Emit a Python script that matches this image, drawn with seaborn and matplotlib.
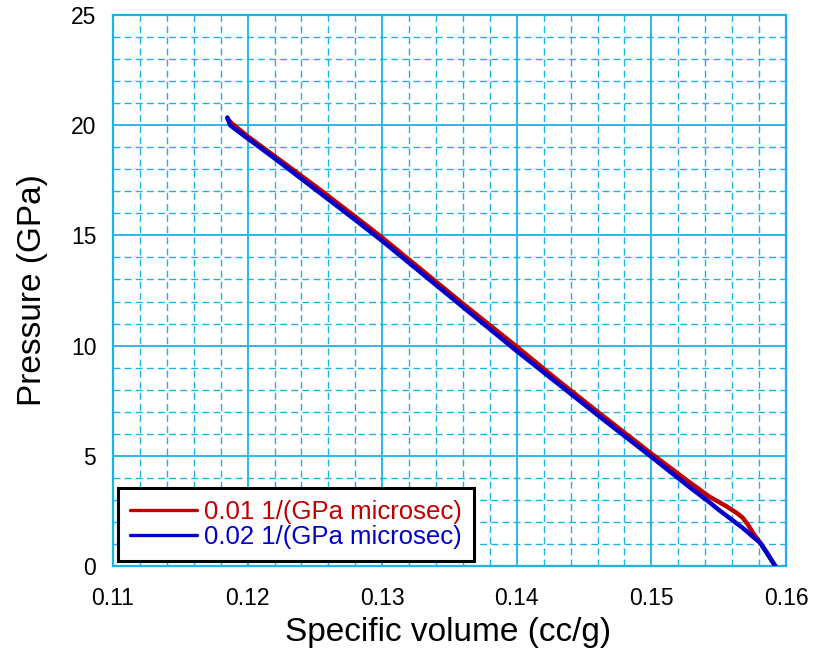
import matplotlib
matplotlib.use("Agg")
import matplotlib.pyplot as plt
import seaborn as sns
import pandas as pd
from matplotlib.ticker import MultipleLocator, FormatStrFormatter

# data
vol_red = [0.1185, 0.1188, 0.120, 0.122, 0.125, 0.128, 0.130, 0.133, 0.136, 0.140,
           0.143, 0.146, 0.150, 0.1525, 0.1543, 0.1556, 0.1564, 0.1568, 0.1572,
           0.15755, 0.1581, 0.1586, 0.1592]
p_red = [20.3, 20.1, 19.5, 18.6, 17.25, 15.85, 14.9, 13.4, 11.9, 9.95,
         8.45, 7.0, 5.1, 3.95, 3.15, 2.7, 2.38, 2.18, 1.85,
         1.5, 1.04, 0.6, 0.0]

vol_blue = [0.1185, 0.1187, 0.120, 0.122, 0.125, 0.128, 0.130, 0.133, 0.136, 0.140,
            0.143, 0.146, 0.150, 0.153, 0.1543, 0.155, 0.1568, 0.1581, 0.1592]
p_blue = [20.35, 20.0, 19.4, 18.5, 17.1, 15.7, 14.75, 13.25, 11.75, 9.75,
          8.3, 6.85, 4.95, 3.5, 2.9, 2.55, 1.72, 1.04, 0.0]

labels = ["0.01 1/(GPa microsec)", "0.02 1/(GPa microsec)"]
colors = ["#C00000", "#0000CC"]

df = pd.concat([
    pd.DataFrame({"vol": vol_red, "p": p_red, "rate": labels[0]}),
    pd.DataFrame({"vol": vol_blue, "p": p_blue, "rate": labels[1]}),
])

sns.set_style("white")
plt.rcParams['font.family'] = ['Liberation Sans', 'DejaVu Sans']

grid_c = "#1AB2E8"

fig = plt.figure(figsize=(8.23, 6.55), dpi=100)
ax = fig.add_axes([0.1373, 0.1359, 0.8177, 0.8412])

sns.lineplot(data=df, x="vol", y="p", hue="rate", palette=colors, sort=False,
             estimator=None, linewidth=3.2, ax=ax, zorder=3)

ax.set_xlim(0.11, 0.16)
ax.set_ylim(0, 25)
ax.xaxis.set_major_locator(MultipleLocator(0.01))
ax.xaxis.set_minor_locator(MultipleLocator(0.002))
ax.yaxis.set_major_locator(MultipleLocator(5))
ax.yaxis.set_minor_locator(MultipleLocator(1))
ax.xaxis.set_major_formatter(FormatStrFormatter('%.2f'))

ax.grid(which='major', color=grid_c, linewidth=1.3, linestyle='-')
ax.grid(which='minor', color=grid_c, linewidth=1.0, linestyle=(0, (5, 3)))
ax.tick_params(which='both', length=0, labelsize=16.5, labelcolor='black')
ax.tick_params(axis='x', pad=15)
ax.tick_params(axis='y', pad=12)
for s in ax.spines.values():
    s.set_color(grid_c)
    s.set_linewidth(1.6)

ax.set_xlabel("Specific volume (cc/g)", fontsize=24, color='black')
ax.set_ylabel("Pressure (GPa)", fontsize=24, color='black')
ax.xaxis.set_label_coords(0.498, -0.093)
ax.yaxis.set_label_coords(-0.097, 0.5)

leg = ax.legend(loc='lower left', fontsize=18.5, frameon=True, fancybox=False,
                borderpad=0.45, handlelength=2.6, handletextpad=0.3, labelspacing=0.05,
                borderaxespad=0.2)
leg.get_frame().set_edgecolor('black')
leg.get_frame().set_linewidth(2.2)
leg.get_frame().set_alpha(1)
for line in leg.get_lines():
    line.set_linewidth(2.4)
for t, c in zip(leg.get_texts(), colors):
    t.set_color(c)

fig.savefig("out.png", dpi=100)
